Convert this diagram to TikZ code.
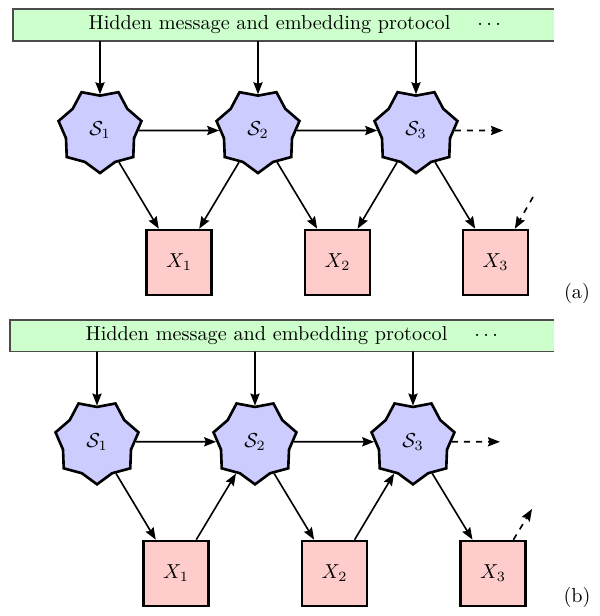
\documentclass[tikz,border=0pt]{standalone}
\usepackage{amsmath, amssymb}
\usepackage{tikz}
\usetikzlibrary{shapes.geometric, arrows.meta, calc}
\tikzset{>={Stealth[length=2.1mm, width=1.6mm, inset=0.3mm]}}
\tikzset{
  state/.style={star, star points=7, star point ratio=1.22, shape border rotate=180,
    minimum size=1.48cm, inner sep=0pt, draw, line width=1.3pt, fill=blue!20},
  obs/.style={rectangle, minimum size=1.13cm, draw, line width=1.3pt, fill=red!20},
  arr/.style={->, line width=0.8pt},
  darr/.style={->, line width=0.8pt, dashed},
}
\definecolor{barfill}{RGB}{204,255,204}

\begin{document}
\begin{tikzpicture}[x=0.0174cm, y=-0.0174cm]
\useasboundingbox (0,0) rectangle (600,616);

% ---------- (a) ----------
% Protocol bar
\fill[barfill] (13,9) rectangle (554,41);
\draw[black!70, line width=0.5pt] (554,9) -- (13,9) -- (13,41) -- (554,41);
\node (titlea) at (296.5,25) {Hidden message and embedding protocol \quad $\cdots$};
\coordinate (bara) at (0,41);

% States
\node[state] (S1a) at (100,130.5) {$\mathcal{S}_1$};
\node[state] (S2a) at (258,130.5) {$\mathcal{S}_2$};
\node[state] (S3a) at (416,130.5) {$\mathcal{S}_3$};
\coordinate (nexta) at (503,130.5);

% Observations
\node[obs] (X1a) at (179,262.5) {$X_1$};
\node[obs] (X2a) at (337.5,262.5) {$X_2$};
\node[obs] (X3a) at (495.5,262.5) {$X_3$};
\coordinate (ina) at (533,197);

% Arrows
\draw[arr] (S1a |- bara) -- (S1a);
\draw[arr] (S2a |- bara) -- (S2a);
\draw[arr] (S3a |- bara) -- (S3a);
\draw[arr] (S1a) -- (S2a);
\draw[arr] (S2a) -- (S3a);
\draw[darr] (S3a) -- (nexta);
\draw[arr] (S1a) -- (X1a);
\draw[arr] (S2a) -- (X1a);
\draw[arr] (S2a) -- (X2a);
\draw[arr] (S3a) -- (X2a);
\draw[arr] (S3a) -- (X3a);
\draw[darr] (ina) -- (X3a);

\node (laba) at (577,293) {(a)};

% ---------- (b) ----------
% Protocol bar
\fill[barfill] (10,320) rectangle (554,351.7);
\draw[black!70, line width=0.5pt] (554,320) -- (10,320) -- (10,351.7) -- (554,351.7);
\node (titleb) at (293.5,336) {Hidden message and embedding protocol \quad $\cdots$};
\coordinate (barb) at (0,351.7);

% States
\node[state] (S1b) at (97,441.8) {$\mathcal{S}_1$};
\node[state] (S2b) at (255,441.8) {$\mathcal{S}_2$};
\node[state] (S3b) at (413,441.8) {$\mathcal{S}_3$};
\coordinate (nextb) at (500,441.8);

% Observations
\node[obs] (X1b) at (176,573.5) {$X_1$};
\node[obs] (X2b) at (334.5,573.5) {$X_2$};
\node[obs] (X3b) at (493,573.5) {$X_3$};
\coordinate (outb) at (532,509);

% Arrows
\draw[arr] (S1b |- barb) -- (S1b);
\draw[arr] (S2b |- barb) -- (S2b);
\draw[arr] (S3b |- barb) -- (S3b);
\draw[arr] (S1b) -- (S2b);
\draw[arr] (S2b) -- (S3b);
\draw[darr] (S3b) -- (nextb);
\draw[arr] (S1b) -- (X1b);
\draw[arr] (X1b) -- (S2b);
\draw[arr] (S2b) -- (X2b);
\draw[arr] (X2b) -- (S3b);
\draw[arr] (S3b) -- (X3b);
\draw[darr] (X3b) -- (outb);

\node (labb) at (577,597) {(b)};

\end{tikzpicture}
\end{document}
